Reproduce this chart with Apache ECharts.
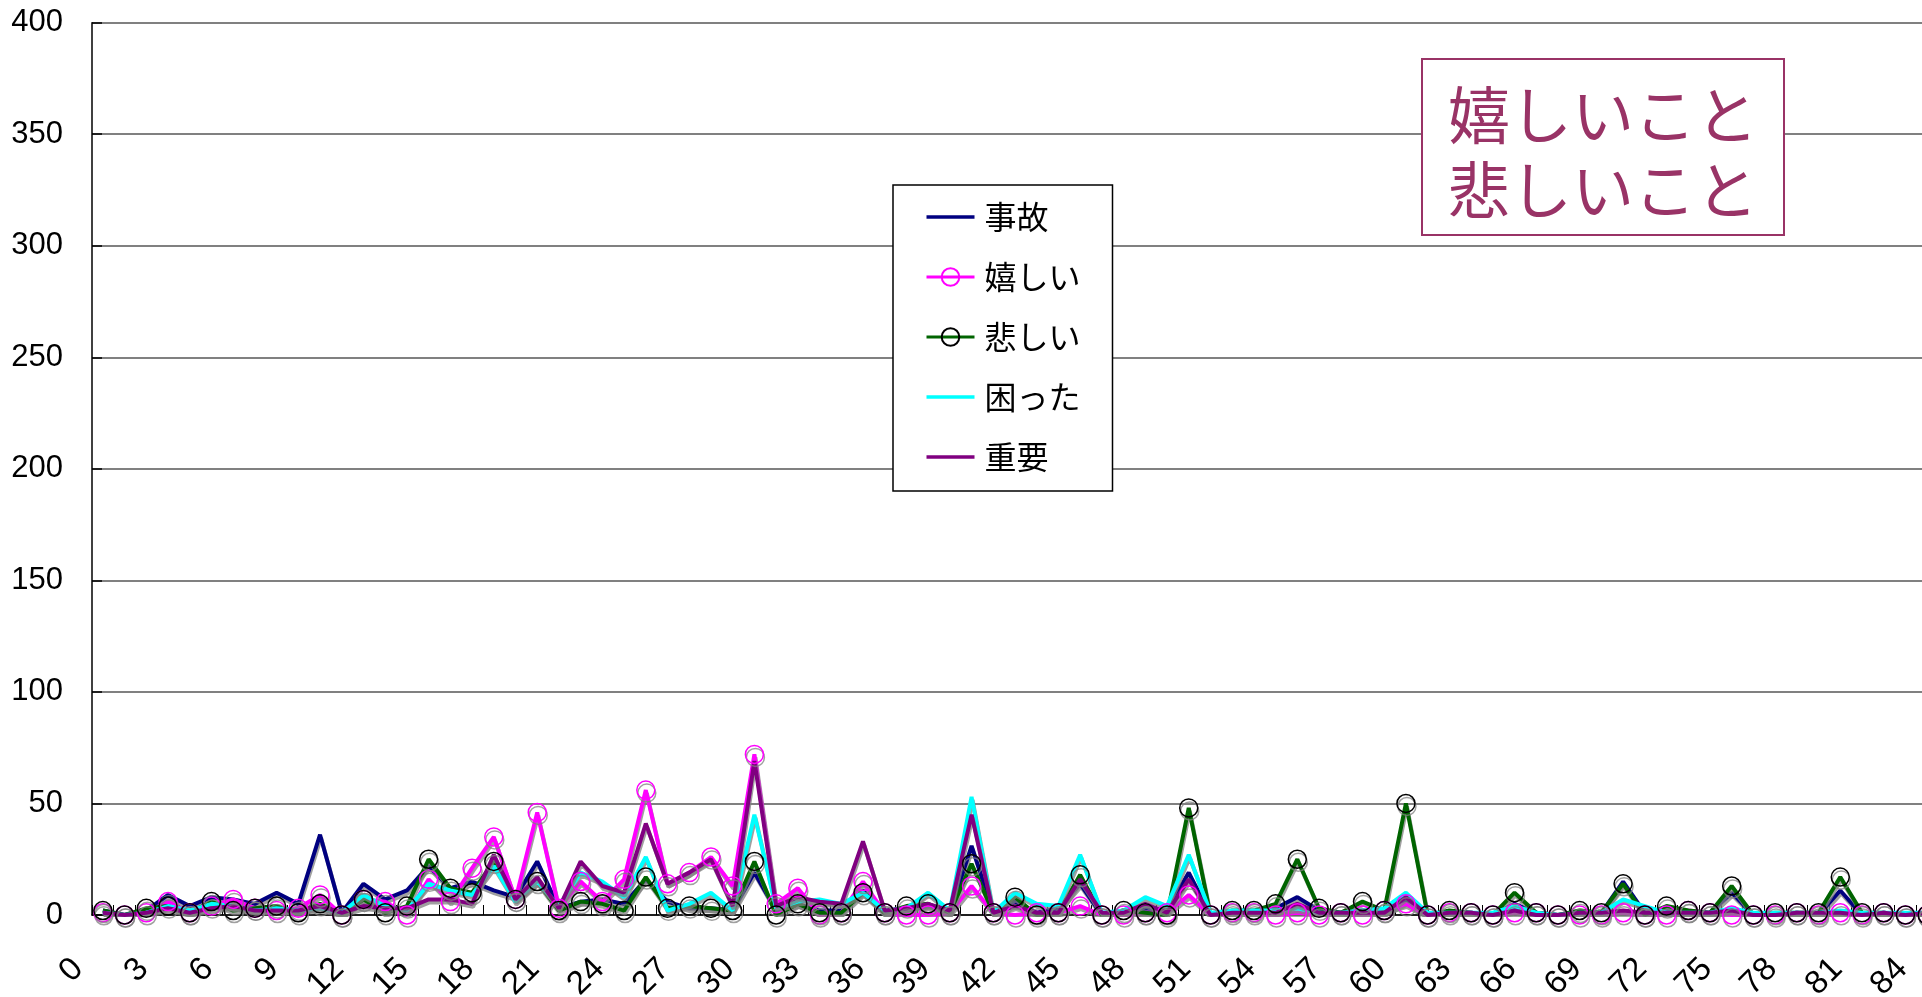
<!DOCTYPE html>
<html>
<head>
<meta charset="utf-8">
<script src="https://cdn.jsdelivr.net/npm/echarts@6/dist/echarts.min.js"></script>
<style>
  html, body { margin: 0; padding: 0; background: #fff; }
  #chart { width: 1922px; height: 997px; }
</style>
</head>
<body>
<div id="chart"></div>
<script>
// Category labels along the x axis (0 .. 84)
const categories = [
  '0','1','2','3','4','5','6','7','8','9',
  '10','11','12','13','14','15','16','17','18','19',
  '20','21','22','23','24','25','26','27','28','29',
  '30','31','32','33','34','35','36','37','38','39',
  '40','41','42','43','44','45','46','47','48','49',
  '50','51','52','53','54','55','56','57','58','59',
  '60','61','62','63','64','65','66','67','68','69',
  '70','71','72','73','74','75','76','77','78','79',
  '80','81','82','83','84'
];

// Counts per category for each keyword
const jiko = [
  2,0,2,9,4,8,7,5,10,5,
  36,1,14,7,11,22,12,15,11,8,
  24,3,6,7,5,16,6,3,3,2,
  19,2,5,2,2,11,1,2,4,1,
  31,1,6,1,3,14,0,2,3,2,
  19,0,1,1,3,8,2,1,2,1,
  6,0,1,1,0,5,1,0,1,1,
  15,1,2,1,1,10,0,0,1,0,
  11,0,1,0,1
];
const ureshii = [
  1,0,1,6,1,4,7,3,2,3,
  9,0,7,6,0,16,6,21,35,7,
  46,3,15,6,16,56,14,19,26,13,
  72,5,12,0,1,15,1,0,0,1,
  13,1,0,1,1,4,0,0,1,1,
  9,0,1,1,0,1,0,1,0,2,
  5,0,1,1,0,1,1,0,0,0,
  1,0,0,2,1,0,0,0,1,0,
  1,0,1,0,0
];
const kanashii = [
  2,0,3,4,1,6,2,3,4,1,
  5,0,7,1,4,25,12,10,24,7,
  15,2,6,5,2,17,3,4,3,2,
  24,0,5,1,1,10,1,4,5,1,
  23,1,8,0,1,18,0,2,1,0,
  48,0,2,2,5,25,3,1,6,2,
  50,0,2,1,0,10,1,0,2,1,
  14,0,4,2,1,13,0,1,1,1,
  17,1,1,0,0
];
const komatta = [
  1,0,1,4,2,5,4,2,3,2,
  3,1,9,4,2,14,11,9,22,6,
  15,4,19,15,8,26,2,5,10,2,
  45,3,6,7,5,10,2,3,10,2,
  53,1,10,5,4,27,1,2,8,4,
  27,1,2,2,2,3,1,1,2,3,
  10,1,1,1,1,4,1,0,1,1,
  7,4,1,1,1,3,1,1,1,1,
  2,1,1,1,1
];
const juuyou = [
  1,0,1,3,1,3,4,2,2,2,
  4,1,4,3,3,7,7,5,27,7,
  17,3,24,13,10,41,14,19,25,4,
  69,4,8,6,5,33,2,3,5,2,
  45,1,4,1,1,16,1,1,5,1,
  16,0,1,1,1,5,1,1,1,1,
  8,0,1,1,0,2,0,0,1,1,
  2,1,1,1,1,2,0,0,1,1,
  1,0,1,0,1
];

const FONT_NUM = '"Liberation Sans", Arial, sans-serif';
const FONT_JP = '"Noto Sans CJK JP", "Noto Sans", sans-serif';
const SHADOW = 'rgba(128,128,128,0.75)';
const LINE_ICON = 'path://M0,0H48V3.5H0Z';

function makeSeries(name, data, color, markerColor) {
  const s = {
    name: name,
    type: 'line',
    data: data,
    animation: false,
    emphasis: { disabled: true },
    lineStyle: {
      color: color,
      width: 4,
      shadowColor: SHADOW,
      shadowBlur: 0,
      shadowOffsetX: 1,
      shadowOffsetY: 3
    }
  };
  if (markerColor) {
    s.symbol = 'circle';
    s.symbolSize = 18;
    s.showSymbol = true;
    s.showAllSymbol = true;
    s.itemStyle = {
      color: 'rgba(255,255,255,0)',
      borderColor: markerColor,
      borderWidth: 1.5,
      shadowColor: SHADOW,
      shadowBlur: 0,
      shadowOffsetX: 1,
      shadowOffsetY: 3
    };
  } else {
    s.symbol = 'none';
    s.showSymbol = false;
    s.itemStyle = { color: color };
  }
  return s;
}

const chart = echarts.init(document.getElementById('chart'), null, { renderer: 'canvas' });

chart.setOption({
  backgroundColor: '#fff',
  animation: false,
  title: {
    text: '嬉しいこと\n悲しいこと',
    left: 1422,
    top: 59,
    padding: [19, 26, 7, 26],
    backgroundColor: '#fff',
    borderColor: '#993366',
    borderWidth: 2,
    textStyle: {
      fontSize: 62,
      lineHeight: 75,
      fontWeight: 'normal',
      color: '#993366',
      fontFamily: FONT_JP
    }
  },
  legend: {
    orient: 'vertical',
    left: 893,
    top: 185,
    padding: [16, 32, 18, 32],
    itemWidth: 48,
    itemHeight: 22,
    itemGap: 28,
    backgroundColor: '#fff',
    borderColor: '#000',
    borderWidth: 1.5,
    selectedMode: false,
    lineStyle: { width: 3 },
    textStyle: {
      fontSize: 32,
      lineHeight: 32,
      color: '#000',
      fontFamily: FONT_JP,
      padding: [0, 0, 0, 5]
    },
    data: [
      { name: '事故', icon: LINE_ICON },
      { name: '嬉しい' },
      { name: '悲しい' },
      { name: '困った', icon: LINE_ICON },
      { name: '重要', icon: LINE_ICON }
    ]
  },
  grid: {
    left: 92,
    top: 22.7,
    width: 1846,
    height: 892.3,
    containLabel: false,
    outerBoundsMode: 'none'
  },
  xAxis: {
    type: 'category',
    data: categories,
    boundaryGap: true,
    axisLine: { show: true, lineStyle: { color: '#000', width: 1.5 } },
    axisTick: { show: true, inside: true, length: 10, interval: 0, lineStyle: { color: '#000', width: 1 } },
    axisLabel: {
      interval: 2,
      rotate: 45,
      margin: 24,
      padding: [0, 35, 0, 0],
      fontSize: 33,
      color: '#000',
      fontFamily: FONT_NUM
    },
    splitLine: { show: false }
  },
  yAxis: {
    type: 'value',
    min: 0,
    max: 400,
    interval: 50,
    axisLine: { show: true, lineStyle: { color: '#000', width: 1.5 } },
    axisTick: { show: true, inside: true, length: 10, lineStyle: { color: '#000', width: 1.5 } },
    axisLabel: { margin: 29, fontSize: 31, color: '#000', fontFamily: FONT_NUM },
    splitLine: { show: true, lineStyle: { color: '#808080', width: 2 } }
  },
  series: [
    makeSeries('事故', jiko, '#000080', null),
    makeSeries('嬉しい', ureshii, '#ff00ff', '#ff00ff'),
    makeSeries('悲しい', kanashii, '#006400', '#000000'),
    makeSeries('困った', komatta, '#00ffff', null),
    makeSeries('重要', juuyou, '#800080', null)
  ]
});
</script>
</body>
</html>
